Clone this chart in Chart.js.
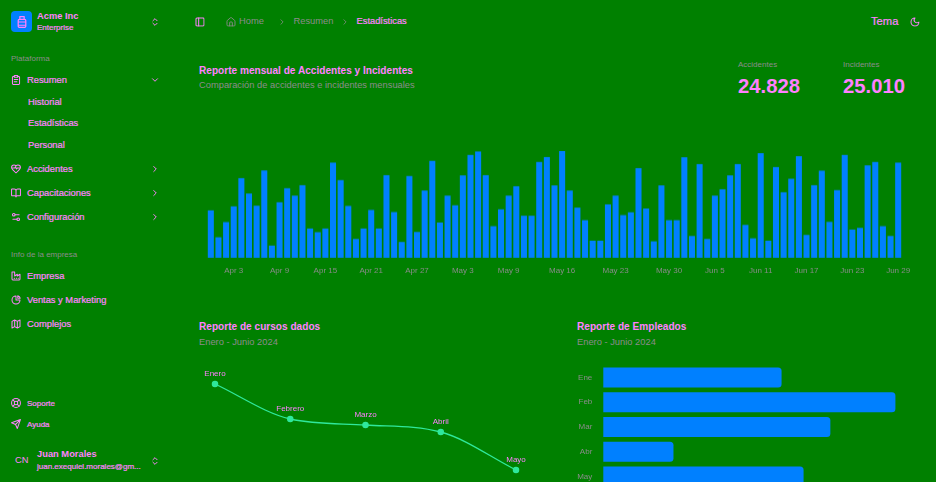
<!DOCTYPE html>
<html lang="es">
<head>
<meta charset="utf-8">
<title>Estadísticas</title>
<script src="https://cdn.jsdelivr.net/npm/chart.js@4"></script>
<style>
  html, body { margin: 0; width: 936px; height: 482px; overflow: hidden; background: #008000; }
  body { position: relative; font-family: "Liberation Sans", sans-serif; color: #ff80ff; font-size: 9.330px; }
  .t { position: absolute; transform: translateY(-50%); white-space: nowrap; line-height: 1; margin-top: .5px; }
  .n { -webkit-text-stroke: .2px #ff80ff; }
  .b { font-weight: 700; }
  .m { color: #8c8c8c; }
  .i { position: absolute; transform: translate(-50%, -50%); fill: none; stroke: #ff80ff; stroke-width: 2.300; stroke-linecap: round; stroke-linejoin: round; }
  .i.g { stroke: #8c8c8c; stroke-width: 2; }
  .box { position: absolute; }
  #logo { position: absolute; left: 11px; top: 11px; width: 21px; height: 21px; border-radius: 4px; background: #0080ff; }
</style>
</head>
<body>
<svg width="0" height="0" style="position:absolute">
  <symbol id="updown" viewBox="0 0 24 24"><path d="m7 15 5 5 5-5M7 9l5-5 5 5"/></symbol>
  <symbol id="down" viewBox="0 0 24 24"><path d="m6 9 6 6 6-6"/></symbol>
  <symbol id="right" viewBox="0 0 24 24"><path d="m9 18 6-6-6-6"/></symbol>
  <symbol id="jar" viewBox="0 0 24 24"><path d="M8 2h8v5H8zM5 9a2 2 0 0 1 2-2h10a2 2 0 0 1 2 2v11a2 2 0 0 1-2 2H7a2 2 0 0 1-2-2zM5 12h14M5 18h14"/></symbol>
  <symbol id="clip" viewBox="0 0 24 24"><rect x="8" y="2" width="8" height="4" rx="1"/><path d="M16 4h2a2 2 0 0 1 2 2v14a2 2 0 0 1-2 2H6a2 2 0 0 1-2-2V6a2 2 0 0 1 2-2h2M8 11h8M8 16h6"/></symbol>
  <symbol id="gem" viewBox="0 0 24 24"><path d="M19 14c1.5-1.5 3-3.2 3-5.5A5.5 5.5 0 0 0 16.500 3c-1.800 0-3 .5-4.500 2-1.500-1.500-2.700-2-4.500-2A5.500 5.500 0 0 0 2 8.500c0 2.300 1.500 4 3 5.500l7 7zM3 10h6l2-3 2 5 2-2h6"/></symbol>
  <symbol id="book" viewBox="0 0 24 24"><path d="M12 7v14M3 18a1 1 0 0 1-1-1V4a1 1 0 0 1 1-1h5a4 4 0 0 1 4 4 4 4 0 0 1 4-4h5a1 1 0 0 1 1 1v13a1 1 0 0 1-1 1h-6a3 3 0 0 0-3 3 3 3 0 0 0-3-3z"/></symbol>
  <symbol id="sliders" viewBox="0 0 24 24"><path d="M14 17H5M19 7h-9"/><circle cx="17" cy="17" r="3"/><circle cx="7" cy="7" r="3"/></symbol>
  <symbol id="factory" viewBox="0 0 24 24"><path d="M3 3v16a2 2 0 0 0 2 2h14a2 2 0 0 0 2-2V8l-6 4V8l-6 4V3zM8 17h1M13 17h1M18 17h0"/></symbol>
  <symbol id="pie" viewBox="0 0 24 24"><path d="M21 12a9 9 0 1 1-9-9v9z"/><path d="M16 2.500A8 8 0 0 1 21.500 8H16z"/></symbol>
  <symbol id="map" viewBox="0 0 24 24"><path d="M3 6l6-3 6 3 6-3v15l-6 3-6-3-6 3zM9 3v15M15 6v15"/></symbol>
  <symbol id="ring" viewBox="0 0 24 24"><circle cx="12" cy="12" r="10"/><circle cx="12" cy="12" r="4"/><path d="m5 5 4 4M15 15l4 4M19 5l-4 4M9 15l-4 4"/></symbol>
  <symbol id="send" viewBox="0 0 24 24"><path d="M22 2 15 22l-4-9-9-4zM22 2 11 13"/></symbol>
  <symbol id="panel" viewBox="0 0 24 24"><rect x="3" y="3" width="18" height="18" rx="2"/><path d="M9 3v18"/></symbol>
  <symbol id="home" viewBox="0 0 24 24"><path d="M15 21v-8a1 1 0 0 0-1-1h-4a1 1 0 0 0-1 1v8"/><path d="M3 10a2 2 0 0 1 .7-1.500l7-6a2 2 0 0 1 2.600 0l7 6a2 2 0 0 1 .7 1.500v9a2 2 0 0 1-2 2H5a2 2 0 0 1-2-2z"/></symbol>
  <symbol id="moon" viewBox="0 0 24 24"><path d="M12 3a6 6 0 0 0 9 9 9 9 0 1 1-9-9z"/></symbol>
</svg>

<div id="logo"></div>
<svg class="i" width="13" height="13" style="left:21.500px;top:21.500px"><use href="#jar"/></svg>
<div class="t b" style="left:37px;top:16px">Acme Inc</div>
<div class="t n" style="left:37px;top:27px;font-size:8px">Enterprise</div>
<svg class="i" width="10" height="10" style="left:154.500px;top:21.500px"><use href="#updown"/></svg>

<div class="t m" style="left:11px;top:58.500px;font-size:8px">Plataforma</div>
<svg class="i" width="10.670" height="10.670" style="left:16px;top:80px"><use href="#clip"/></svg>
<div class="t n" style="left:27px;top:80px">Resumen</div>
<svg class="i" width="10" height="10" style="left:154.500px;top:80px"><use href="#down"/></svg>
<div class="t n" style="left:28px;top:102px">Historial</div>
<div class="t n" style="left:28px;top:123.500px">Estadísticas</div>
<div class="t n" style="left:28px;top:145px">Personal</div>
<svg class="i" width="10.670" height="10.670" style="left:16px;top:168.500px"><use href="#gem"/></svg>
<div class="t n" style="left:27px;top:169px">Accidentes</div>
<svg class="i" width="10" height="10" style="left:154.500px;top:168.500px"><use href="#right"/></svg>
<svg class="i" width="10.670" height="10.670" style="left:16px;top:192.500px"><use href="#book"/></svg>
<div class="t n" style="left:27px;top:193px">Capacitaciones</div>
<svg class="i" width="10" height="10" style="left:154.500px;top:192.500px"><use href="#right"/></svg>
<svg class="i" width="10.670" height="10.670" style="left:16px;top:216.500px"><use href="#sliders"/></svg>
<div class="t n" style="left:27px;top:217px">Configuración</div>
<svg class="i" width="10" height="10" style="left:154.500px;top:216.500px"><use href="#right"/></svg>

<div class="t m" style="left:11px;top:254px;font-size:8px">Info de la empresa</div>
<svg class="i" width="10.670" height="10.670" style="left:16px;top:276px"><use href="#factory"/></svg>
<div class="t n" style="left:27px;top:276px">Empresa</div>
<svg class="i" width="10.670" height="10.670" style="left:16px;top:300px"><use href="#pie"/></svg>
<div class="t n" style="left:27px;top:300px">Ventas y Marketing</div>
<svg class="i" width="10.670" height="10.670" style="left:16px;top:324px"><use href="#map"/></svg>
<div class="t n" style="left:27px;top:324px">Complejos</div>

<svg class="i" width="10.670" height="10.670" style="left:16px;top:403px"><use href="#ring"/></svg>
<div class="t n" style="left:27px;top:403px;font-size:8px">Soporte</div>
<svg class="i" width="10.670" height="10.670" style="left:16px;top:424px"><use href="#send"/></svg>
<div class="t n" style="left:27px;top:424px;font-size:8px">Ayuda</div>
<div class="t" style="left:15px;top:460px">CN</div>
<div class="t b" style="left:37px;top:454.500px">Juan Morales</div>
<div class="t n" style="left:37px;top:466.500px;font-size:8px">juan.exequiel.morales@gm...</div>
<svg class="i" width="10" height="10" style="left:154.500px;top:460.500px"><use href="#updown"/></svg>

<svg class="i" width="10.670" height="10.670" style="left:199.500px;top:21.500px"><use href="#panel"/></svg>
<svg class="i g" width="10.670" height="10.670" style="left:231px;top:21.500px"><use href="#home"/></svg>
<div class="t m" style="left:239px;top:21.500px">Home</div>
<svg class="i g" width="9" height="9" style="left:281.500px;top:21.500px"><use href="#right"/></svg>
<div class="t m" style="left:293.500px;top:21.500px">Resumen</div>
<svg class="i g" width="9" height="9" style="left:344.500px;top:21.500px"><use href="#right"/></svg>
<div class="t n" style="left:356.500px;top:21.500px">Estadísticas</div>
<div class="t n" style="left:871px;top:21.500px;font-size:11.200px">Tema</div>
<svg class="i" width="10.670" height="10.670" style="left:914.500px;top:21.500px"><use href="#moon"/></svg>

<div class="t b" style="left:199px;top:70px;font-size:10.100px">Reporte mensual de Accidentes y Incidentes</div>
<div class="t m" style="left:199px;top:85px">Comparación de accidentes e incidentes mensuales</div>
<div class="t m" style="left:738px;top:64.500px;font-size:8px">Accidentes</div>
<div class="t b" style="left:738px;top:85px;font-size:20.300px">24.828</div>
<div class="t m" style="left:843px;top:64.500px;font-size:8px">Incidentes</div>
<div class="t b" style="left:843px;top:85px;font-size:20.300px">25.010</div>

<div class="t b" style="left:199px;top:326px;font-size:10.100px">Reporte de cursos dados</div>
<div class="t m" style="left:199px;top:342.500px">Enero - Junio 2024</div>
<div class="t b" style="left:577px;top:326px;font-size:10.100px">Reporte de Empleados</div>
<div class="t m" style="left:577px;top:342.500px">Enero - Junio 2024</div>

<div class="box" style="left:190px;top:145px;width:730px;height:137.500px"><canvas id="chartMensual"></canvas></div>
<div class="box" style="left:190px;top:350px;width:350px;height:132px"><canvas id="chartCursos"></canvas></div>
<div class="box" style="left:560px;top:365px;width:376px;height:124px"><canvas id="chartEmpleados"></canvas></div>

<script>
const dias = [
  'Mar 31','Apr 1','Apr 2','Apr 3','Apr 4','Apr 5','Apr 6','Apr 7','Apr 8','Apr 9','Apr 10','Apr 11','Apr 12','Apr 13','Apr 14','Apr 15',
  'Apr 16','Apr 17','Apr 18','Apr 19','Apr 20','Apr 21','Apr 22','Apr 23','Apr 24','Apr 25','Apr 26','Apr 27','Apr 28','Apr 29','Apr 30',
  'May 1','May 2','May 3','May 4','May 5','May 6','May 7','May 8','May 9','May 10','May 11','May 12','May 13','May 14','May 15','May 16',
  'May 17','May 18','May 19','May 20','May 21','May 22','May 23','May 24','May 25','May 26','May 27','May 28','May 29','May 30','May 31',
  'Jun 1','Jun 2','Jun 3','Jun 4','Jun 5','Jun 6','Jun 7','Jun 8','Jun 9','Jun 10','Jun 11','Jun 12','Jun 13','Jun 14','Jun 15','Jun 16',
  'Jun 17','Jun 18','Jun 19','Jun 20','Jun 21','Jun 22','Jun 23','Jun 24','Jun 25','Jun 26','Jun 27','Jun 28','Jun 29'
];
const diasVisibles = ['Apr 3','Apr 9','Apr 15','Apr 21','Apr 27','May 3','May 9','May 16','May 23','May 30','Jun 5','Jun 11','Jun 17','Jun 23','Jun 29'];
const reportesDiarios = [
  222,96,167,241,373,301,244,409,57,260,326,291,340,137,120,137,446,364,243,88,137,224,137,387,214,74,383,121,315,454,
  165,291,246,386,482,498,387,148,227,291,335,197,197,449,472,339,500,315,235,176,80,80,250,291,200,213,420,231,77,339,
  176,176,471,102,439,88,291,321,386,439,154,91,490,80,425,307,370,476,107,340,408,168,317,482,132,140,433,449,148,102,446
];
const mesesCursos = ['Enero','Febrero','Marzo','Abril','Mayo'];
const cursosDados = [96,61,55,48,10];
const mesesEmpleados = ['Ene','Feb','Mar','Abr','May'];
const empleados = [186,305,237,73,209];

const azul = '#0080ff';
const gris = '#8c8c8c';
const rosa = '#ff80ff';
const verdeLinea = '#2fe89c';
Chart.defaults.font.family = '"Liberation Sans", sans-serif';
Chart.defaults.font.size = 8;
Chart.defaults.animation = false;
Chart.defaults.responsive = true;
Chart.defaults.maintainAspectRatio = false;
Chart.defaults.layout.autoPadding = false;
Chart.defaults.plugins.legend.display = false;
Chart.defaults.plugins.tooltip.enabled = false;

const sinPadding = (scale) => { scale.paddingLeft = 0; scale.paddingRight = 0; };

new Chart(document.getElementById('chartMensual'), {
    type: 'bar',
    data: { labels: dias, datasets: [{ data: reportesDiarios, backgroundColor: azul, categoryPercentage: 1, barPercentage: 0.79 }] },
    options: {
        layout: { padding: { left: 17, right: 18, top: 6, bottom: 0 } },
        scales: {
            x: {
                grid: { display: false, drawTicks: false },
                border: { display: false },
                afterFit: sinPadding,
                ticks: {
                    color: gris, autoSkip: false, maxRotation: 0, padding: 8,
                    callback(value) {
                        const label = this.getLabelForValue(value);
                        return diasVisibles.includes(label) ? label : '';
                    }
                }
            },
            y: { display: false, min: 0, max: 500 }
        }
    }
});

// etiquetas encima de cada punto
const etiquetasCursos = {
    id: 'etiquetasCursos',
    afterDatasetsDraw(chart) {
        const ctx = chart.ctx;
        ctx.save();
        ctx.fillStyle = rosa;
        ctx.font = '8px "Liberation Sans", sans-serif';
        ctx.textAlign = 'center';
        chart.getDatasetMeta(0).data.forEach((pt, i) => ctx.fillText(mesesCursos[i], pt.x, pt.y - 8));
        ctx.restore();
    }
};

new Chart(document.getElementById('chartCursos'), {
    type: 'line',
    data: { labels: mesesCursos, datasets: [{
        data: cursosDados, borderColor: verdeLinea, backgroundColor: verdeLinea, borderWidth: 1.3,
        pointRadius: 2.6, cubicInterpolationMode: 'monotone', clip: false
    }] },
    options: {
        layout: { padding: { left: 25, right: 24, top: 10, bottom: 2 } },
        scales: {
            x: { display: false },
            y: { display: false, min: 0, max: 120 }
        }
    },
    plugins: [etiquetasCursos]
});

new Chart(document.getElementById('chartEmpleados'), {
    type: 'bar',
    data: { labels: mesesEmpleados, datasets: [{
        data: empleados, backgroundColor: azul, borderRadius: 3.5, categoryPercentage: 1, barThickness: 19.3
    }] },
    options: {
        indexAxis: 'y',
        layout: { padding: { left: 0, right: 17, top: 0, bottom: 0 } },
        scales: {
            x: { display: false, min: 0, max: 330 },
            y: {
                grid: { display: false, drawTicks: false },
                border: { display: false },
                afterFit(scale) { scale.width = 43.300; scale.paddingTop = 0; scale.paddingBottom = 0; },
                ticks: { color: gris, padding: 11 }
            }
        }
    }
});
</script>
</body>
</html>
